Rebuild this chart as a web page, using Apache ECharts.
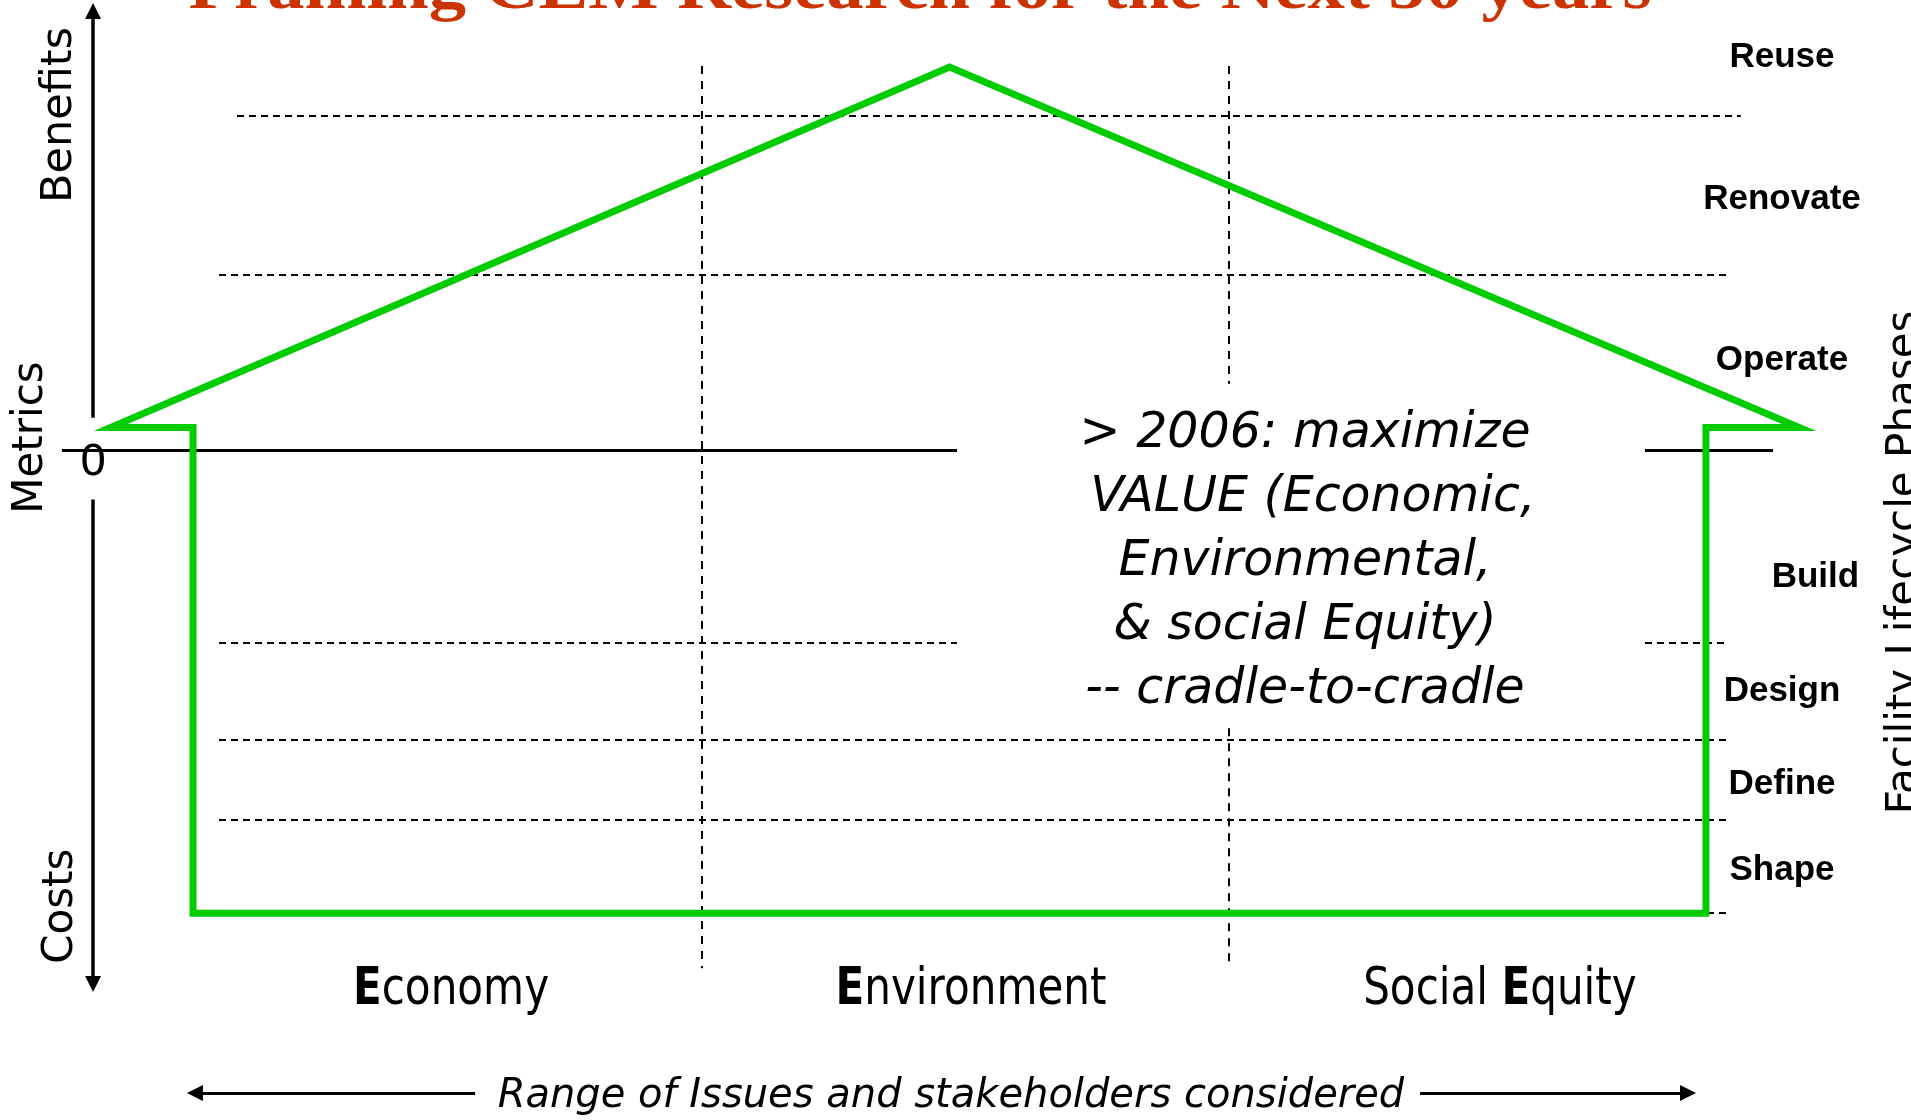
<!DOCTYPE html>
<html>
<head>
<meta charset="utf-8">
<title>Framing CEM Research for the Next 50 years</title>
<script src="https://cdn.jsdelivr.net/npm/echarts@6/dist/echarts.min.js"></script>
<style>
html, body { margin: 0; padding: 0; background: #fff; overflow: hidden; }
#main { width: 1911px; height: 1120px; }
</style>
</head>
<body>
<div id="main"></div>
<script>
// x = position along the range of issues (0..100 across the slide)
// y = metrics, benefits above 0, costs below 0

// green "house" outline, walked from the middle of the left wall
var houseX = [10.1, 10.1, 5.79, 49.69, 94.15, 89.27, 89.27, 10.1, 10.1];
var houseY = [-2.0, 0.23, 0.23, 3.84, 0.23, 0.23, -4.63, -4.63, -2.0];

// lifecycle phase boundaries (dashed)
var boundY = [3.35, 1.76, -1.92, -2.89, -3.69, -4.63];
var boundFrom = [12.4, 11.46, 11.46, 11.46, 11.46, 11.46];
var boundTo = [91.1, 90.42, 90.42, 90.42, 90.42, 90.42];

// category dividers (dashed)
var dividerX = [36.71, 64.31];
var dividerTop = 3.85;
var dividerBottom = -5.18;

// zero line
var zeroFrom = 3.24;
var zeroTo = 92.78;

// white area kept clear for the note
var noteBoxX = [50.08, 86.08];
var noteBoxY = [0.67, -2.78];

// phases, right side
var phases = ['Reuse', 'Renovate', 'Operate', 'Build', 'Design', 'Define', 'Shape'];
var phaseY = [3.94, 2.51, 0.90, -1.27, -2.41, -3.34, -4.20];
var phaseX = [93.25, 93.25, 93.25, 95.0, 93.25, 93.25, 93.25];

// categories along the bottom
var categories = ['Economy', 'Environment', 'Social Equity'];
var categoryX = [23.6, 50.81, 78.49];
var categoryY = -5.40;

// metrics axis (with a gap round the "0")
var axisX = 4.87;
var axisUp = [0.33, 4.40];
var axisDown = [-0.49, -5.34];

// range arrows at the bottom
var rangeY = -6.43;
var rangeLeft = [24.86, 10.2];
var rangeRight = [74.31, 88.33];

var noteLines = ['> 2006: maximize', ' VALUE (Economic,', 'Environmental,', '& social Equity)', '-- cradle-to-cradle'];

var chart = echarts.init(document.getElementById('main'));

function cutH(y, x1, x2) {
	if (y < noteBoxY[0] && y > noteBoxY[1] && x1 < noteBoxX[0] && x2 > noteBoxX[1]) {
		return [[[x1, y], [noteBoxX[0], y]], [[noteBoxX[1], y], [x2, y]]];
	}
	return [[[x1, y], [x2, y]]];
}
function cutV(x, y1, y2) {
	if (x > noteBoxX[0] && x < noteBoxX[1]) {
		return [[[x, y1], [x, noteBoxY[0]]], [[x, noteBoxY[1]], [x, y2]]];
	}
	return [[[x, y1], [x, y2]]];
}

var hSegs = [];
boundY.forEach(function (y, i) { hSegs = hSegs.concat(cutH(y, boundFrom[i], boundTo[i])); });
var vSegs = [];
dividerX.forEach(function (x) { vSegs = vSegs.concat(cutV(x, dividerTop, dividerBottom)); });
var zeroSegs = cutH(0, zeroFrom, zeroTo);

function segData(list) { return list.map(function (s) { return { coords: s }; }); }

var option = {
	animation: false,
	backgroundColor: '#fff',
	grid: { left: 0, top: 1, width: 1911, height: 1120 },
	xAxis: { type: 'value', min: 0, max: 100, show: false },
	yAxis: { type: 'value', min: -6.7, max: 4.5, show: false },
	series: [
		{
			type: 'lines', coordinateSystem: 'cartesian2d', silent: true, z: 2,
			lineStyle: { color: '#000', width: 2, type: [7, 5], opacity: 1 },
			data: segData(hSegs)
		},
		{
			type: 'lines', coordinateSystem: 'cartesian2d', silent: true, z: 2,
			lineStyle: { color: '#000', width: 2, type: [8, 7], opacity: 1 },
			data: segData(vSegs)
		},
		{
			type: 'lines', coordinateSystem: 'cartesian2d', silent: true, z: 3,
			lineStyle: { color: '#000', width: 3, opacity: 1 },
			data: segData(zeroSegs)
		},
		{
			type: 'lines', coordinateSystem: 'cartesian2d', silent: true, z: 3,
			symbol: ['none', 'triangle'], symbolSize: [14, 16],
			lineStyle: { color: '#000', width: 3.5, opacity: 1 },
			data: segData([
				[[axisX, axisUp[0]], [axisX, axisUp[1]]],
				[[axisX, axisDown[0]], [axisX, axisDown[1]]]
			])
		},
		{
			type: 'lines', coordinateSystem: 'cartesian2d', silent: true, z: 3,
			symbol: ['none', 'triangle'], symbolSize: [12, 16],
			lineStyle: { color: '#000', width: 3, opacity: 1 },
			data: segData([
				[[rangeLeft[0], rangeY], [rangeLeft[1], rangeY]],
				[[rangeRight[0], rangeY], [rangeRight[1], rangeY]]
			])
		},
		{
			type: 'line', silent: true, z: 5,
			showSymbol: false,
			lineStyle: { color: '#00cc00', width: 7, join: 'miter', miterLimit: 10 },
			data: houseX.map(function (x, i) { return [x, houseY[i]]; })
		}
	]
};
chart.setOption(option);

function px(x, y) { return chart.convertToPixel({ gridIndex: 0 }, [x, y]); }

function note(str, at, font, size, extra) {
	extra = extra || {};
	var p = px(at[0], at[1]);
	return {
		type: 'text', x: p[0], y: p[1], z: 100, silent: true,
		rotation: extra.rot || 0,
		scaleX: extra.sx || 1,
		style: {
			text: str, fill: extra.color || '#000',
			fontFamily: font, fontSize: size,
			fontWeight: extra.weight || 'normal',
			fontStyle: extra.italic ? 'italic' : 'normal',
			lineHeight: extra.lh,
			rich: extra.rich,
			align: 'center', verticalAlign: 'middle'
		}
	};
}

var up = Math.PI / 2;
var graphics = [
	note('Framing CEM Research for the Next 50 years', [48.14, 4.60], 'Liberation Serif', 66, { weight: 'bold', color: '#cc3300', sx: 1.13 }),
	note('Benefits', [3.14, 3.36], 'DejaVu Sans', 43, { rot: up }),
	note('Metrics', [1.62, 0.13], 'DejaVu Sans', 42, { rot: up }),
	note('Costs', [3.19, -4.56], 'DejaVu Sans', 42, { rot: up }),
	note('0', [axisX, -0.13], 'DejaVu Sans', 43),
	note('Facility Lifecycle Phases', [99.7, -1.12], 'DejaVu Sans', 42, { rot: up }),
	note('Range of Issues and stakeholders considered', [49.76, -6.47], 'DejaVu Sans', 40, { italic: true }),
	note(noteLines.join('\n'), [68.29, -1.12], 'DejaVu Sans', 49, { italic: true, lh: 64 })
];
phases.forEach(function (p, i) {
	graphics.push(note(p, [phaseX[i], phaseY[i]], 'Liberation Sans', 35, { weight: 'bold' }));
});
categories.forEach(function (c, i) {
	graphics.push(note(c.replace(/E/, '{b|E}'), [categoryX[i], categoryY], 'DejaVu Sans', 52, {
		sx: 0.81,
		rich: { b: { fontFamily: 'DejaVu Sans', fontSize: 52, fontWeight: 'bold', fill: '#000' } }
	}));
});

chart.setOption({ graphic: graphics });
</script>
</body>
</html>
